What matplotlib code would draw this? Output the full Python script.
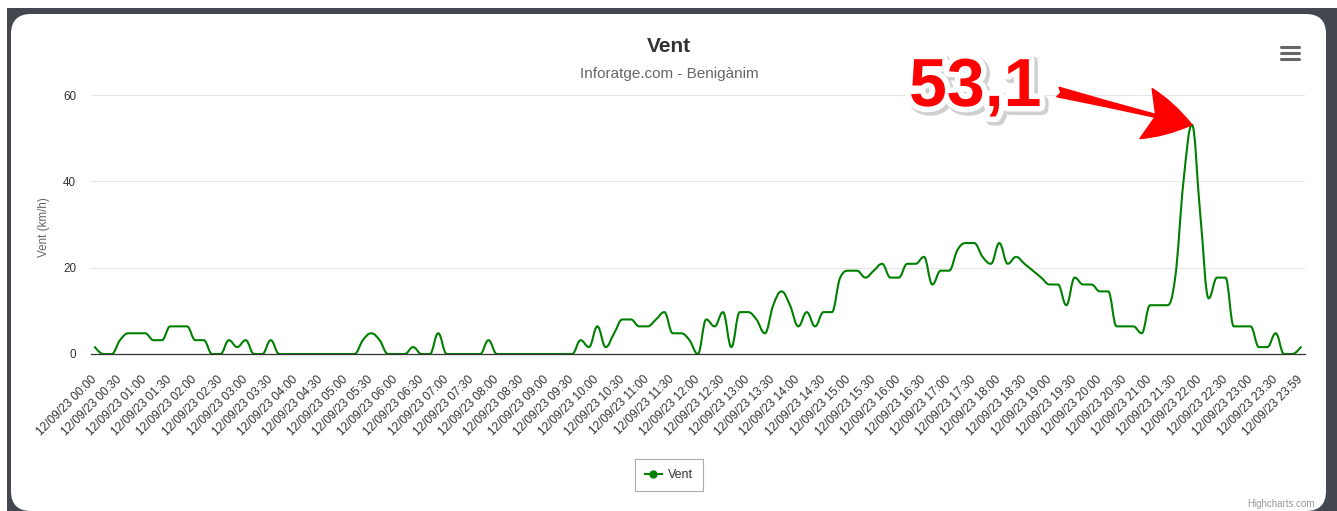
import numpy as np
import matplotlib
matplotlib.use("Agg")
import matplotlib.pyplot as plt
from matplotlib.path import Path
from matplotlib.patches import PathPatch, FancyBboxPatch, Rectangle
from matplotlib.lines import Line2D
import matplotlib.transforms as mtransforms
import matplotlib.patheffects as pe

plt.rcParams['font.family'] = ['Liberation Sans', 'DejaVu Sans']

# ---------------- data ----------------
title = "Vent"
subtitle = "Inforatge.com - Benigànim"
series_name = "Vent"
y_label = "Vent (km/h)"
date_prefix = "12/09/23"
label_times = ["00:00", "00:30", "01:00", "01:30", "02:00", "02:30", "03:00", "03:30",
               "04:00", "04:30", "05:00", "05:30", "06:00", "06:30", "07:00", "07:30",
               "08:00", "08:30", "09:00", "09:30", "10:00", "10:30", "11:00", "11:30",
               "12:00", "12:30", "13:00", "13:30", "14:00", "14:30", "15:00", "15:30",
               "16:00", "16:30", "17:00", "17:30", "18:00", "18:30", "19:00", "19:30",
               "20:00", "20:30", "21:00", "21:30", "22:00", "22:30", "23:00", "23:30",
               "23:59"]
label_step = 3  # one label every 3 samples (10-minute samples)

# wind speed in km/h, one value every 10 minutes (00:00 ... 23:59)
wind_kmh = [
    1.6, 0, 0, 3.2, 4.8, 4.8, 4.8, 3.2, 3.2, 6.4, 6.4, 6.4,
    3.2, 3.2, 0, 0, 3.2, 1.6, 3.2, 0, 0, 3.2, 0, 0,
    0, 0, 0, 0, 0, 0, 0, 0, 3.2, 4.8, 3.2, 0,
    0, 0, 1.6, 0, 0, 4.8, 0, 0, 0, 0, 0, 3.2,
    0, 0, 0, 0, 0, 0, 0, 0, 0, 0, 3.2, 1.6,
    6.4, 1.6, 4.8, 8.0, 8.0, 6.4, 6.4, 8.0, 9.7, 4.8, 4.8, 3.2,
    0, 8.0, 6.4, 9.7, 1.6, 9.7, 9.7, 8.0, 4.8, 11.3, 14.5, 11.3,
    6.4, 9.7, 6.4, 9.7, 9.7, 17.7, 19.3, 19.3, 17.7, 19.3, 20.9, 17.7,
    17.7, 20.9, 20.9, 22.5, 16.1, 19.3, 19.3, 24.1, 25.7, 25.7, 22.5, 20.9,
    25.7, 20.9, 22.5, 20.9, 19.3, 17.7, 16.1, 16.1, 11.3, 17.7, 16.1, 16.1,
    14.5, 14.5, 6.4, 6.4, 6.4, 4.8, 11.3, 11.3, 11.3, 17.7, 40.2, 53.1,
    32.2, 12.9, 17.7, 17.7, 6.4, 6.4, 6.4, 1.6, 1.6, 4.8, 0, 0, 1.6,
]
y_ticks = [0, 20, 40, 60]
peak_label = "53,1"

# ---------------- figure ----------------
W, H = 1337, 511
fig = plt.figure(figsize=(W / 100, H / 100), dpi=100)
fig.patch.set_facecolor("white")
pxT = mtransforms.Affine2D().scale(1 / W, -1 / H).translate(0, 1) + fig.transFigure

# dark frame + white rounded card
fig.add_artist(Rectangle((7, 8), W - 7, H - 8, transform=pxT, facecolor="#43474f",
                         edgecolor="none", zorder=-3))
fig.add_artist(FancyBboxPatch((11, 14), 1326 - 11, 511 - 14, transform=pxT,
                              boxstyle="round,pad=0,rounding_size=20",
                              facecolor="white", edgecolor="none", zorder=-2))

L, R, T, B = 90.7, 1305, 95, 354
ax = fig.add_axes([L / W, 1 - B / H, (R - L) / W, (B - T) / H])
ax.set_facecolor("none")

x = np.arange(len(wind_kmh))
y = np.array(wind_kmh, dtype=float)


def highcharts_spline(xs, ys, smoothing=1.5):
    n = len(xs)
    lc = [None] * n
    rc = [None] * n
    d = smoothing + 1
    for i in range(n):
        px_, py_ = xs[i], ys[i]
        if 0 < i < n - 1:
            lx, ly = xs[i - 1], ys[i - 1]
            nx, ny = xs[i + 1], ys[i + 1]
            lcx = (smoothing * px_ + lx) / d
            lcy = (smoothing * py_ + ly) / d
            rcx = (smoothing * px_ + nx) / d
            rcy = (smoothing * py_ + ny) / d
            if rcx != lcx:
                corr = (rcy - lcy) * (rcx - px_) / (rcx - lcx) + py_ - rcy
                lcy += corr
                rcy += corr
            if lcy > ly and lcy > py_:
                lcy = max(ly, py_)
                rcy = 2 * py_ - lcy
            elif lcy < ly and lcy < py_:
                lcy = min(ly, py_)
                rcy = 2 * py_ - lcy
            if rcy > ny and rcy > py_:
                rcy = max(ny, py_)
                lcy = 2 * py_ - rcy
            elif rcy < ny and rcy < py_:
                rcy = min(ny, py_)
                lcy = 2 * py_ - rcy
            lc[i] = (lcx, lcy)
            rc[i] = (rcx, rcy)
        else:
            lc[i] = (px_, py_)
            rc[i] = (px_, py_)
    verts = [(xs[0], ys[0])]
    codes = [Path.MOVETO]
    for i in range(1, n):
        verts += [rc[i - 1], lc[i], (xs[i], ys[i])]
        codes += [Path.CURVE4] * 3
    return Path(verts, codes)


ax.add_patch(PathPatch(highcharts_spline(x, y), fill=False, edgecolor="#008000",
                       linewidth=1.5, joinstyle="round", capstyle="round", zorder=3))

ax.set_xlim(-0.5, len(wind_kmh) - 0.5)
ax.set_ylim(y_ticks[0], y_ticks[-1])
for s in ("left", "right", "top"):
    ax.spines[s].set_visible(False)
ax.spines["bottom"].set_color("#333333")
ax.spines["bottom"].set_linewidth(0.9)
ax.spines["bottom"].set_zorder(4)

ax.set_yticks(y_ticks)
ax.yaxis.grid(True, color="#e6e6e6", linewidth=0.8)
ax.set_axisbelow(True)
ax.tick_params(axis="y", length=0, pad=10.5, labelsize=8.4, labelcolor="#333333")

tick_pos = x[::label_step]
ax.set_xticks(tick_pos)
ax.set_xticklabels([f"{date_prefix} {t}" for t in label_times])
ax.tick_params(axis="x", length=0, pad=17, labelsize=8.6, labelcolor="#333333")
plt.setp(ax.get_xticklabels(), rotation=45, ha="right", va="center",
         rotation_mode="anchor")

# titles
fig.text(669, 46, title, transform=pxT, ha="center", va="center", fontsize=15,
         fontweight="bold", color="#333333")
fig.text(669, 74, subtitle, transform=pxT, ha="center", va="center", fontsize=11,
         color="#666666")
fig.text(44, 227, y_label, transform=pxT, ha="center", va="center", rotation=90,
         fontsize=8.4, color="#666666")

# legend
handle = Line2D([], [], color="#008000", linewidth=1.5, marker="o", markersize=5)
leg = fig.legend([handle], [series_name], loc="center",
                 bbox_to_anchor=(669 / W, 1 - 475 / H), frameon=True, fancybox=False,
                 edgecolor="#999999", fontsize=9, handlelength=1.4, handletextpad=0.5,
                 borderpad=0.8, labelcolor="#333333")
leg.get_frame().set_linewidth(0.8)

# credits
fig.text(1315, 504, "Highcharts.com", transform=pxT, ha="right", va="center",
         fontsize=7, color="#999999")

# menu icon
for yy in (47, 53, 59):
    fig.add_artist(Line2D([1281, 1299], [yy, yy], transform=pxT, color="#666666",
                          linewidth=2.2, solid_capstyle="round"))

# peak annotation
ipk = int(np.argmax(y))
fig.text(909, 106, peak_label, transform=pxT, ha="left", va="baseline", fontsize=49,
         fontweight="bold", color="#ff0000", zorder=10,
         path_effects=[pe.Stroke(linewidth=9, foreground="#777777", alpha=0.35,
                                 offset=(2, -2)),
                       pe.Stroke(linewidth=8, foreground="white"),
                       pe.Normal()])
ax.annotate("", xy=(x[ipk], y[ipk]), xycoords="data", xytext=(1058, 92), textcoords=pxT,
            arrowprops=dict(arrowstyle="fancy,head_length=3.4,head_width=3.7,tail_width=0.7",
                            color="#ff0000", mutation_scale=10, shrinkA=0, shrinkB=0),
            annotation_clip=False, zorder=10)

fig.savefig("out.png", dpi=100)
